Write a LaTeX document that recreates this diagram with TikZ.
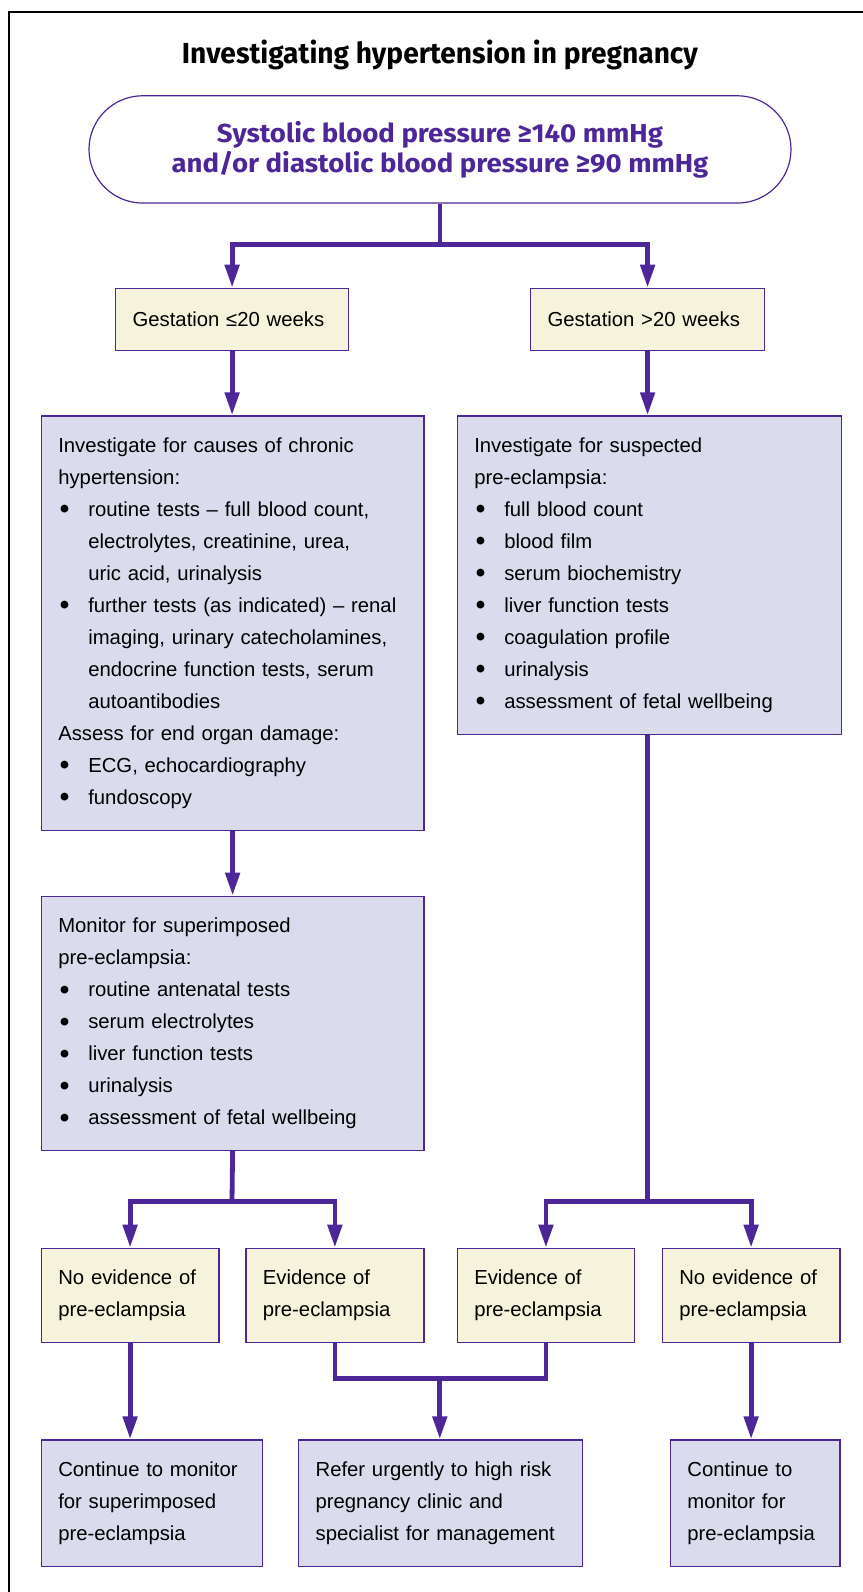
\documentclass[tikz,border=0pt]{standalone}
\usepackage{fontspec}
\setmainfont{Liberation Sans}
\newfontfamily\titlefont[FakeStretch=0.97]{Fira Sans}
\newfontfamily\ovalfont[FakeStretch=1.06]{Fira Sans}
\usetikzlibrary{arrows.meta,shapes.misc}
\definecolor{pline}{RGB}{77,39,152}
\definecolor{lav}{RGB}{218,219,236}
\definecolor{yel}{RGB}{245,243,220}
\newcommand\bul{\makebox[15pt][l]{\hspace{0.6pt}\raisebox{-1.2pt}{\scalebox{1.4}{•}}}}
\newcommand\ind{\hspace*{15pt}}
\tikzset{
  box/.style={draw=pline, line width=0.6pt, fill=lav, anchor=north west,
    inner xsep=8.5pt, inner ysep=0pt, align=left,
    font=\fontsize{10.15pt}{16pt}\selectfont},
  ybox/.style={box, fill=yel},
  conn/.style={draw=pline, line width=2.4pt},
  arr/.style={conn, -{Triangle[length=11.5pt,width=7pt]}},
}
\begin{document}
\begin{tikzpicture}[x=0.5pt,y=-0.5pt]
\useasboundingbox (0,0) rectangle (863,1592);
\draw[black, line width=0.8pt] (8.8,1592) -- (8.8,11.7) -- (863,11.7);

\node[font=\titlefont\bfseries\fontsize{14.5pt}{17pt}\selectfont, anchor=base] (title) at (440,63) {Investigating hypertension in pregnancy};

\node[rounded rectangle, draw=pline, line width=0.6pt, fill=white, minimum width=351pt, minimum height=53.65pt, inner sep=0pt, align=center, text=pline, font=\ovalfont\bfseries\fontsize{13pt}{15pt}\selectfont] (bp) at (440,149.4) {Systolic blood pressure ≥140 mmHg\\and/or diastolic blood pressure ≥90 mmHg};

\node[ybox, minimum width=116.5pt, minimum height=31.15pt, text width=99.5pt] (g1) at (115,287.7) {Gestation ≤20 weeks};
\node[ybox, minimum width=117pt, minimum height=31.15pt, text width=100pt] (g2) at (530,287.7) {Gestation >20 weeks};

\node[box, minimum width=191.3pt, minimum height=207.35pt, text width=174.3pt] (L) at (40.7,415.3) {Investigate for causes of chronic\\
hypertension:\\
\bul routine tests – full blood count,\\
\ind electrolytes, creatinine, urea,\\
\ind uric acid, urinalysis\\
\bul further tests (as indicated) – renal\\
\ind imaging, urinary catecholamines,\\
\ind endocrine function tests, serum\\
\ind autoantibodies\\
Assess for end organ damage:\\
\bul ECG, echocardiography\\
\bul fundoscopy};

\node[box, minimum width=192pt, minimum height=159.35pt, text width=175pt] (R) at (456.7,415.3) {Investigate for suspected\\
pre-eclampsia:\\
\bul full blood count\\
\bul blood film\\
\bul serum biochemistry\\
\bul liver function tests\\
\bul coagulation profile\\
\bul urinalysis\\
\bul assessment of fetal wellbeing};

\node[box, minimum width=191.3pt, minimum height=127.15pt, text width=174.3pt] (M) at (40.7,895.7) {Monitor for superimposed\\
pre-eclampsia:\\
\bul routine antenatal tests\\
\bul serum electrolytes\\
\bul liver function tests\\
\bul urinalysis\\
\bul assessment of fetal wellbeing};

\node[ybox, minimum width=88.8pt, minimum height=47.15pt, text width=71.8pt] (y1) at (40.7,1247.7) {No evidence of\\pre-eclampsia};
\node[ybox, minimum width=89pt, minimum height=47.15pt, text width=72pt] (y2) at (245.3,1247.7) {Evidence of\\pre-eclampsia};
\node[ybox, minimum width=88.65pt, minimum height=47.15pt, text width=71.65pt] (y3) at (456.7,1247.7) {Evidence of\\pre-eclampsia};
\node[ybox, minimum width=88.8pt, minimum height=47.15pt, text width=71.8pt] (y4) at (661.7,1247.7) {No evidence of\\pre-eclampsia};

\node[box, minimum width=110.65pt, minimum height=63.35pt, text width=93.65pt] (b1) at (40.7,1439.3) {Continue to monitor\\for superimposed\\pre-eclampsia};
\node[box, minimum width=141.85pt, minimum height=63.35pt, text width=124.85pt] (b2) at (298,1439.3) {Refer urgently to high risk\\pregnancy clinic and\\specialist for management};
\node[box, minimum width=84.75pt, minimum height=63.35pt, text width=67.75pt] (b3) at (669.8,1439.3) {Continue to\\monitor for\\pre-eclampsia};

% connectors
\coordinate (j1) at (440,244.3);
\draw[conn] (bp.south) -- (j1);
\draw[arr] (j1) -| (g1.north);
\draw[arr] (j1) -| (g2.north);
\draw[arr] (g1.south) -- (g1.south |- L.north);
\draw[arr] (g2.south) -- (g2.south |- R.north);
\draw[arr] (L.south) -- (M.north);

\coordinate (j2) at (232,1201.7);
\draw[conn] (M.south) -- (j2);
\draw[arr] (j2) -| (y1.north);
\draw[arr] (j2) -| (y2.north);

\coordinate (j3) at (647.5,1201.7);
\draw[conn] (j3 |- R.south) -- (j3);
\draw[arr] (j3) -| (y3.north);
\draw[arr] (j3) -| (y4.north);

\coordinate (j4) at (439.8,1378.3);
\draw[arr] (y1.south) -- (y1.south |- b1.north);
\draw[conn] (y2.south) -- (y2.south |- j4) -| (y3.south);
\draw[arr] (j4) -- (j4 |- b2.north);
\draw[arr] (y4.south) -- (y4.south |- b3.north);
\end{tikzpicture}
\end{document}
